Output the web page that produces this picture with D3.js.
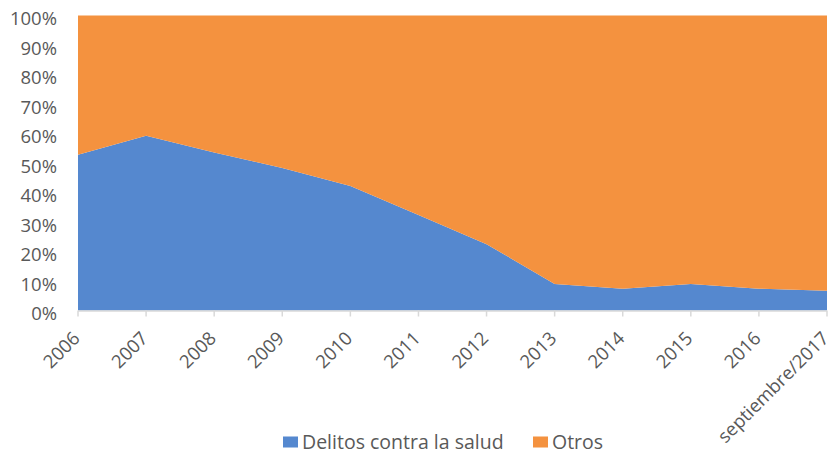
<!DOCTYPE html>
<html><head><meta charset="utf-8">
<script src="https://cdn.jsdelivr.net/npm/d3@7/dist/d3.min.js"></script>
<style>body{margin:0;background:#fff}svg{display:block}</style>
</head><body>
<svg id="c" width="833" height="453"></svg>
<script>
const categories = ["2006","2007","2008","2009","2010","2011","2012","2013","2014","2015","2016","septiembre/2017"];
const delitos = [52.8,59.2,53.6,48.3,42.2,32.4,22.5,9.0,7.4,9.0,7.4,6.7];
const otros = delitos.map(v => 100 - v);
const seriesNames = ["Delitos contra la salud","Otros"];
const colors = ["#5588CF","#F4923F"];
const yTicks = [0,10,20,30,40,50,60,70,80,90,100];

(function(){
const svg = d3.select("#c");
const font = "'Open Sans', sans-serif";
const pLeft = 78, pRight = 827, pTop = 15.5, pBottom = 310.5;
const x = d3.scalePoint().domain(categories).range([pLeft, pRight]);
const y = d3.scaleLinear().domain([0,100]).range([pBottom, pTop]);

const data = categories.map((c,i)=>({cat:c, a:delitos[i], b:otros[i]}));
const stack = d3.stack().keys(["a","b"])(data);
const area = d3.area().x(d=>x(d.data.cat)).y0(d=>y(d[0])).y1(d=>y(d[1]));
svg.append("g").selectAll("path").data(stack).join("path")
  .attr("d", area).attr("fill",(d,i)=>colors[i]);

svg.append("g").selectAll("text").data(yTicks).join("text")
  .attr("x", 57).attr("y", d=>y(d)+3.5).attr("dy", "0.35em")
  .attr("text-anchor","end").attr("fill","#595959")
  .style("font-family",font).style("font-size","18.5px")
  .text(d=>d+"%");

const ax = svg.append("g");
ax.append("line").attr("x1",pLeft).attr("x2",pRight).attr("y1",pBottom+0.5).attr("y2",pBottom+0.5)
  .attr("stroke","#d9d9d9").attr("stroke-width",1.5);
ax.selectAll("line.t").data(categories).join("line").attr("class","t")
  .attr("x1",d=>x(d)).attr("x2",d=>x(d)).attr("y1",pBottom).attr("y2",pBottom+6)
  .attr("stroke","#d9d9d9").attr("stroke-width",1.5);
ax.selectAll("text").data(categories).join("text")
  .attr("transform",d=>`translate(${x(d)+3},${pBottom+29}) rotate(-45)`)
  .attr("text-anchor","end")
  .attr("fill","#595959").style("font-family",font).style("font-size","18.5px")
  .text(d=>d);

const legX = [283, 533];
const lg = svg.append("g");
seriesNames.forEach((n,i)=>{
  lg.append("rect").attr("x",legX[i]).attr("y",436.5).attr("width",15).attr("height",11).attr("fill",colors[i]);
  lg.append("text").attr("x",legX[i]+19).attr("y",448.5).attr("fill","#595959")
    .style("font-family",font).style("font-size","19.5px").text(n);
});
})();
</script>
</body></html>
